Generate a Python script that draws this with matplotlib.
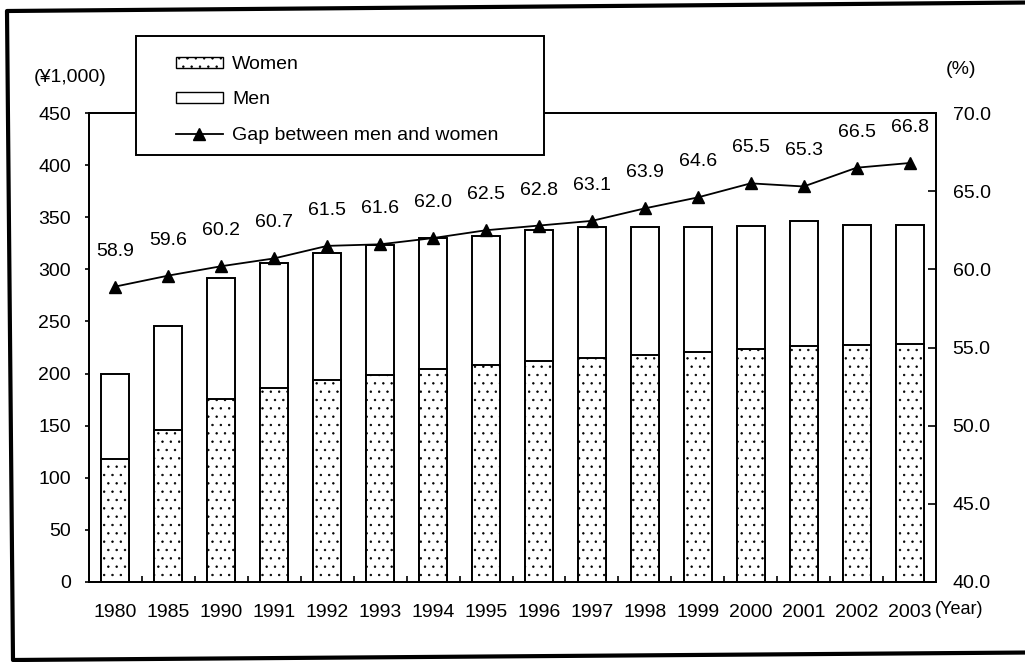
import matplotlib.pyplot as plt
from matplotlib.patches import Patch, Rectangle
from matplotlib.lines import Line2D

plt.rcParams["font.family"] = ["Liberation Sans", "DejaVu Sans"]
plt.rcParams["hatch.linewidth"] = 0.5

years = ["1980", "1985", "1990", "1991", "1992", "1993", "1994", "1995",
         "1996", "1997", "1998", "1999", "2000", "2001", "2002", "2003"]

# monthly wages, thousand yen
men = [200.0, 245.5, 291.8, 306.0, 315.6, 322.9, 330.2, 332.4,
       337.8, 340.4, 340.4, 341.0, 341.3, 346.6, 342.5, 342.5]
women = [117.8, 146.3, 175.7, 185.7, 194.1, 198.9, 204.7, 207.8,
         212.1, 214.8, 217.5, 220.3, 223.6, 226.3, 227.8, 228.8]

# women's wages as a percentage of men's
gap = [58.9, 59.6, 60.2, 60.7, 61.5, 61.6, 62.0, 62.5,
       62.8, 63.1, 63.9, 64.6, 65.5, 65.3, 66.5, 66.8]

W, H = 1025, 662


def fx(px):
    return px / W


def fy(py):
    return 1 - py / H


fig = plt.figure(figsize=(W / 100, H / 100), dpi=100)
ax = fig.add_axes([fx(89), fy(582), fx(936) - fx(89), fy(113) - fy(582)])

x = list(range(len(years)))
bar_w = 0.53
ax.bar(x, men, width=bar_w, facecolor="white", edgecolor="black", linewidth=1.4, zorder=2)
ax.bar(x, women, width=bar_w, facecolor="white", edgecolor="black", linewidth=1.4,
       hatch="..", zorder=3)

ax.set_xlim(-0.5, len(years) - 0.5)
ax.set_ylim(0, 450)
ax.set_yticks(range(0, 451, 50))
ax.set_xticks(x)
ax.set_xticklabels(years, fontsize=14)
ax.set_xticks([i + 0.5 for i in x[:-1]], minor=True)
ax.tick_params(axis="x", which="major", length=0, pad=16)
ax.tick_params(axis="x", which="minor", direction="in", length=4, width=1.2)
ax.tick_params(axis="y", direction="out", length=3, width=1.2, pad=10, labelsize=14)
for s in ax.spines.values():
    s.set_linewidth(1.3)

ax2 = ax.twinx()
ax2.set_ylim(40, 70)
ax2.set_yticks([40, 45, 50, 55, 60, 65, 70])
ax2.set_yticklabels([f"{v:.1f}" for v in [40, 45, 50, 55, 60, 65, 70]])
ax2.tick_params(axis="y", direction="in", length=6, width=1.2, pad=12, labelsize=14)
ax2.plot(x, gap, color="black", linewidth=1.3, marker="^", markersize=8, zorder=4)
for xi, g in zip(x, gap):
    ax2.annotate(f"{g:.1f}", (xi, g), xytext=(0, 27), textcoords="offset pixels",
                 ha="center", va="bottom", fontsize=14)
for s in ax2.spines.values():
    s.set_linewidth(1.3)

fig.text(fx(34), fy(78), "(¥1,000)", fontsize=14, ha="left", va="center")
fig.text(fx(946), fy(70), "(%)", fontsize=14, ha="left", va="center")
fig.text(fx(935), fy(609), "(Year)", fontsize=13, ha="left", va="center")

# legend box sits over the top of the plot area
fig.patches.append(Rectangle((fx(136), fy(155)), fx(544) - fx(136), fy(36) - fy(155),
                             transform=fig.transFigure, facecolor="white",
                             edgecolor="black", linewidth=1.4, zorder=1))
handles = [
    Patch(facecolor="white", edgecolor="black", hatch="..", label="Women"),
    Patch(facecolor="white", edgecolor="black", label="Men"),
    Line2D([], [], color="black", marker="^", markersize=8, linewidth=1.3,
           label="Gap between men and women"),
]
fig.legend(handles=handles, loc="upper left", bbox_to_anchor=(fx(176), fy(56)),
           frameon=False, fontsize=14, borderpad=0, borderaxespad=0,
           handlelength=2.4, handleheight=0.5, handletextpad=0.5, labelspacing=0.95)

# outer border
fig.lines.append(Line2D([fx(1030), fx(7), fx(13), fx(1030)],
                        [fy(2.5), fy(11), fy(660), fy(652.5)],
                        transform=fig.transFigure, color="black", linewidth=3.0))

fig.savefig("out.png", dpi=100)
